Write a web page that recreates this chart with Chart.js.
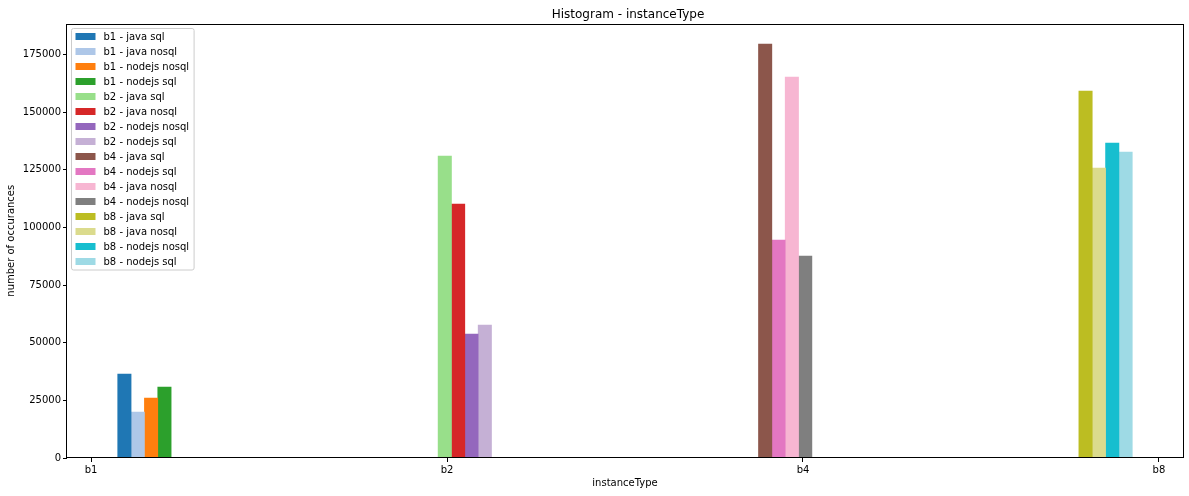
<!DOCTYPE html>
<html>
<head>
<meta charset="utf-8">
<title>Histogram - instanceType</title>
<script src="https://cdn.jsdelivr.net/npm/chart.js@4.4.0/dist/chart.umd.min.js"></script>
<style>
  html, body { margin: 0; padding: 0; background: #fff; }
  canvas { display: block; background: #fff; }
</style>
</head>
<body>
<canvas id="histogram" width="1189" height="496"></canvas>
<script>
// Instance types on the x axis (tick values 0..3)
const instanceTypes = ['b1', 'b2', 'b4', 'b8'];
const xTickValues = [0, 1, 2, 3];
const yTickValues = [0, 25000, 50000, 75000, 100000, 125000, 150000, 175000];

// Histogram bins: 10 bins over [0, 3], each instance type falls in one bin
const binStarts = [0, 0.9, 1.8, 2.7];
const binWidth = 0.3;
const rwidth = 0.5;

// Series labels per instance type (order as drawn)
const b1Labels = ['java sql', 'java nosql', 'nodejs nosql', 'nodejs sql'];
const b2Labels = ['java sql', 'java nosql', 'nodejs nosql', 'nodejs sql'];
const b4Labels = ['java sql', 'nodejs sql', 'java nosql', 'nodejs nosql'];
const b8Labels = ['java sql', 'java nosql', 'nodejs nosql', 'nodejs sql'];

// Number of occurances per series
const b1Counts = [36400, 19950, 26000, 30800];
const b2Counts = [130900, 110100, 53750, 57650];
const b4Counts = [179480, 94500, 165170, 87570];
const b8Counts = [159100, 125700, 136550, 132650];

// tab20 colours, one per series
const b1Colors = ['#1f77b4', '#aec7e8', '#ff7f0e', '#2ca02c'];
const b2Colors = ['#98df8a', '#d62728', '#9467bd', '#c5b0d5'];
const b4Colors = ['#8c564b', '#e377c2', '#f7b6d2', '#7f7f7f'];
const b8Colors = ['#bcbd22', '#dbdb8d', '#17becf', '#9edae5'];

const groups = [
  { name: 'b1', labels: b1Labels, counts: b1Counts, colors: b1Colors },
  { name: 'b2', labels: b2Labels, counts: b2Counts, colors: b2Colors },
  { name: 'b4', labels: b4Labels, counts: b4Counts, colors: b4Colors },
  { name: 'b8', labels: b8Labels, counts: b8Counts, colors: b8Colors }
];

// Bar width in data units, like matplotlib hist with 4 datasets per call
const barWidth = binWidth * rwidth / 4;
const barOffset = binWidth * (1 - rwidth) / 2;

const datasets = [];
groups.forEach((g, gi) => {
  g.counts.forEach((count, j) => {
    datasets.push({
      label: g.name + ' - ' + g.labels[j],
      data: [{ x: binStarts[gi] + barOffset + barWidth * (j + 0.5), y: count }],
      backgroundColor: g.colors[j],
      borderWidth: 0
    });
  });
});

// Axis limits with 5% margins
const xLo = binStarts[0] + barOffset;
const xHi = binStarts[binStarts.length - 1] + barOffset + barWidth * 4;
const xSpan = xHi - xLo;
const allCounts = b1Counts.concat(b2Counts, b4Counts, b8Counts);
const yMax = Math.max(...allCounts) * 1.05;

const chartTitle = 'Histogram - instanceType';

Chart.defaults.font.family = "'DejaVu Sans', sans-serif";
Chart.defaults.font.size = 10;
Chart.defaults.color = '#000';

// Frame around the plot area (the four spines) and the title above it
const framePlugin = {
  id: 'frame',
  afterDraw(chart) {
    const { ctx, chartArea } = chart;
    ctx.save();
    ctx.strokeStyle = '#000';
    ctx.lineWidth = 1;
    ctx.strokeRect(Math.round(chartArea.left) - 0.5, Math.round(chartArea.top) + 0.5,
      Math.round(chartArea.right) - Math.round(chartArea.left) + 1,
      Math.round(chartArea.bottom) - Math.round(chartArea.top) - 1);

    ctx.fillStyle = '#000';
    ctx.font = "12px 'DejaVu Sans', sans-serif";
    ctx.textAlign = 'center';
    ctx.textBaseline = 'alphabetic';
    ctx.fillText(chartTitle, (chartArea.left + chartArea.right) / 2 + 3, chartArea.top - 5.5);
    ctx.restore();
  }
};

// Bar width in pixels follows the x scale
const barSizePlugin = {
  id: 'barSize',
  afterLayout(chart) {
    const x = chart.scales.x;
    const px = x.getPixelForValue(barWidth) - x.getPixelForValue(0);
    chart.data.datasets.forEach(ds => { ds.barThickness = px; });
  }
};

// Legend box inside the top left corner of the plot
const boxLegendPlugin = {
  id: 'boxLegend',
  afterDraw(chart) {
    const { ctx, chartArea } = chart;
    const items = chart.data.datasets;
    const left = chartArea.left + 4.5;
    const top = chartArea.top + 5;
    const rowH = 15;
    ctx.save();
    ctx.font = "10px 'DejaVu Sans', sans-serif";
    let maxW = 0;
    items.forEach(ds => { maxW = Math.max(maxW, ctx.measureText(ds.label).width); });
    const textX = left + 4 + 20 + 8;
    const width = textX - left + maxW + 5;
    const height = 8 + rowH * (items.length - 1) + 8.5;

    ctx.fillStyle = 'rgba(255,255,255,0.8)';
    ctx.strokeStyle = '#cccccc';
    ctx.lineWidth = 1;
    ctx.beginPath();
    ctx.roundRect(left, top, width, height, 2);
    ctx.fill();
    ctx.stroke();

    ctx.textBaseline = 'middle';
    ctx.textAlign = 'left';
    items.forEach((ds, i) => {
      const cy = top + 8 + i * rowH;
      ctx.fillStyle = ds.backgroundColor;
      ctx.fillRect(left + 4, cy - 3.5, 20, 7);
      ctx.fillStyle = '#000';
      ctx.fillText(ds.label, textX, cy + 0.5);
    });
    ctx.restore();
  }
};

const chart = new Chart(document.getElementById('histogram'), {
  type: 'bar',
  data: { datasets: datasets },
  options: {
    responsive: false,
    animation: false,
    layout: { padding: { left: 0, right: 6, top: 23.5, bottom: 0 } },
    datasets: {
      bar: { grouped: false, barThickness: 13.4 }
    },
    plugins: {
      legend: { display: false },
      tooltip: { enabled: false },
      title: { display: false }
    },
    scales: {
      x: {
        type: 'linear',
        offset: false,
        min: xLo - 0.05 * xSpan,
        max: xHi + 0.05 * xSpan,
        afterBuildTicks: (scale) => { scale.ticks = xTickValues.map(v => ({ value: v })); },
        afterFit: (scale) => { scale.height = 38; },
        grid: { offset: false, drawOnChartArea: false, drawTicks: true, tickLength: 4, color: '#000' },
        border: { display: false },
        ticks: {
          padding: 2,
          maxRotation: 0,
          autoSkip: false,
          callback: (value) => instanceTypes[xTickValues.indexOf(value)]
        },
        title: {
          display: true,
          text: 'instanceType',
          padding: { top: 0, bottom: 7 }
        }
      },
      y: {
        min: 0,
        max: yMax,
        afterBuildTicks: (scale) => { scale.ticks = yTickValues.map(v => ({ value: v })); },
        afterFit: (scale) => { scale.width = 67; },
        grid: { drawOnChartArea: false, drawTicks: true, tickLength: 4, color: '#000' },
        border: { display: false },
        ticks: {
          padding: 2,
          autoSkip: false,
          callback: (value) => String(value)
        },
        title: {
          display: true,
          text: 'number of occurances',
          padding: { top: 5, bottom: 0 }
        }
      }
    }
  },
  plugins: [framePlugin, barSizePlugin, boxLegendPlugin]
});
</script>
</body>
</html>
